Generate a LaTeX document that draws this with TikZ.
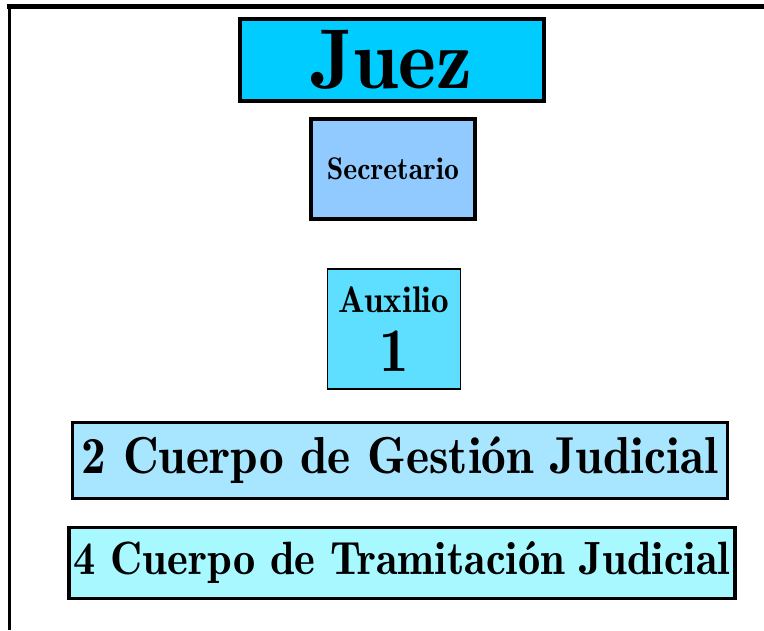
\documentclass[tikz,border=0pt]{standalone}
\usepackage{fontspec}
\setmainfont{lmromandemi10-regular.otf}[FakeStretch=0.95]
\usepackage{tikz}
\usetikzlibrary{positioning}

\definecolor{juezfill}{HTML}{00CCFF}
\definecolor{secfill}{HTML}{90CAFF}
\definecolor{auxfill}{HTML}{5FDFFF}
\definecolor{gestfill}{HTML}{A8E6FF}
\definecolor{tramfill}{HTML}{A8F8FF}

\begin{document}
\begin{tikzpicture}[x=1pt,y=1pt,on grid,
   box/.style={draw=black,rectangle,inner sep=0pt,align=center},
   juezbox/.style={box,fill=juezfill,line width=4pt,minimum width=304pt,minimum height=82pt,font=\fontsize{85}{90}\selectfont},
   secbox/.style={box,fill=secfill,line width=4pt,minimum width=164pt,minimum height=99.5pt,font=\fontsize{31.3}{36}\selectfont},
   auxbox/.style={box,fill=auxfill,line width=1.5pt,minimum width=133pt,minimum height=120pt,font=\fontsize{37}{59}\selectfont},
   cuerpobox/.style={box,line width=3.3pt,minimum height=76pt}]
   \useasboundingbox (0,0) rectangle (764,-630);
   \draw[line width=5pt] (7,-6.5) -- (764,-6.5);
   \draw[line width=3.5pt] (9.25,-4) -- (9.25,-630);
   \node[juezbox] (juez) at (392,-60) {Juez};
   \node[secbox] (secretario) [below=109pt of juez,xshift=1pt] {Secretario};
   \node[auxbox] (auxilio) [below=160pt of secretario,xshift=1pt] {Auxilio\\\fontsize{62}{59}\selectfont 1};
   \node[cuerpobox,fill=gestfill,minimum width=655.5pt,font=\fontsize{52}{60}\selectfont] (gestion) [below=131.5pt of auxilio,xshift=6pt] {2 Cuerpo de Gestión Judicial};
   \node[cuerpobox,fill=tramfill,minimum width=666pt,minimum height=71.5pt,font=\fontsize{46.7}{50}\selectfont] (tramitacion) [below=102.5pt of gestion,xshift=2pt] {4 Cuerpo de Tramitación Judicial};
\end{tikzpicture}
\end{document}
